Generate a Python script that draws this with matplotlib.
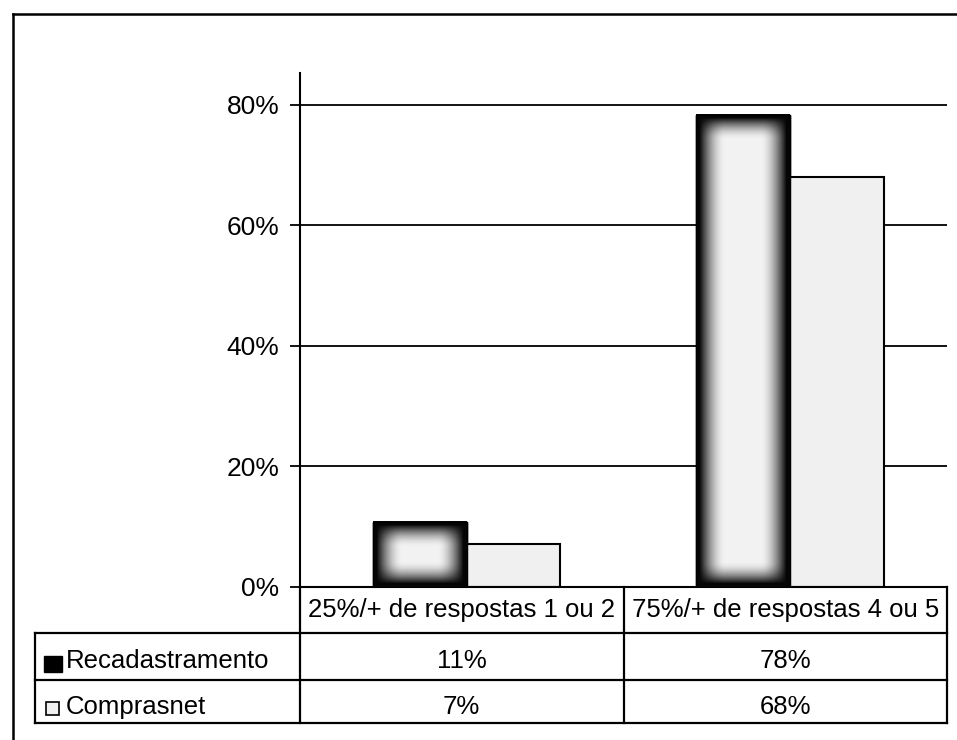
import numpy as np
import matplotlib
matplotlib.use("Agg")
import matplotlib.pyplot as plt
from matplotlib.lines import Line2D
from matplotlib.patches import Rectangle
from matplotlib.transforms import blended_transform_factory

plt.rcParams['font.family'] = ['Liberation Sans', 'DejaVu Sans']

# data
categories = ['25%/+ de respostas 1 ou 2', '75%/+ de respostas 4 ou 5']
series_names = ['Recadastramento', 'Comprasnet']
recadastramento = [10.8, 78.4]
comprasnet = [7.1, 68.1]
y_ticks = [0, 20, 40, 60, 80]

W, H = 957, 740
fig = plt.figure(figsize=(W / 100, H / 100), dpi=100)

def fx(px):
    return px / W

def fy(py):
    # pixel measured from top -> figure fraction
    return 1 - py / H

ax = fig.add_axes([fx(300), fy(587), fx(947) - fx(300), fy(73) - fy(587)])
ax.set_xlim(-0.5, 1.5)
ax.set_ylim(0, 85.3)

x = np.arange(len(categories)) + 0.015
w = 0.29
bars_r = ax.bar(x - w / 2, recadastramento, w, color='black', edgecolor='black', lw=1, zorder=2)
bars_c = ax.bar(x + w / 2, comprasnet, w, color='#f0f0f0', edgecolor='black', lw=1.5, zorder=2)

# gradient fill for the Recadastramento bars (dark edges -> light centre)
for rect in bars_r:
    x0, y0 = rect.get_x(), rect.get_y()
    x1, y1 = x0 + rect.get_width(), y0 + rect.get_height()
    (px0, py0), (px1, py1) = ax.transData.transform([(x0, y0), (x1, y1)])
    nw, nh = int(round(px1 - px0)), int(round(py1 - py0))
    jj = np.arange(nw)
    ii = np.arange(nh)
    dx = np.minimum(jj, nw - 1 - jj)
    dy = np.minimum(ii, nh - 1 - ii)
    gx = np.clip((dx - 3) / 26.0, 0, 1)
    gy = np.clip((dy - 3) / 22.0, 0, 1)
    gx = gx * gx * (3 - 2 * gx)
    gy = gy * gy * (3 - 2 * gy)
    val = np.sqrt(np.outer(gy, gx))
    grey = 0.02 + 0.93 * val
    img = np.dstack([grey, grey, grey])
    ax.imshow(img, extent=(x0, x1, y0, y1), aspect='auto', zorder=3,
              interpolation='bilinear')
    ax.add_patch(Rectangle((x0, y0), x1 - x0, y1 - y0, fill=False,
                           edgecolor='black', lw=1, zorder=4))

ax.set_xlim(-0.5, 1.5)
ax.set_ylim(0, 85.3)
ax.set_yticks(y_ticks)
ax.set_yticklabels([f'{t}%' for t in y_ticks])
ax.set_xticks([])
ax.tick_params(axis='y', direction='out', length=7, width=1.3, pad=8, labelsize=19)
ax.yaxis.grid(True, color='black', lw=1.3)
ax.set_axisbelow(True)
for s in ['top', 'right']:
    ax.spines[s].set_visible(False)
ax.spines['left'].set_linewidth(1.5)
ax.spines['bottom'].set_linewidth(1.5)

# data table under the plot
lw = 1.6
tr = blended_transform_factory(ax.transData, fig.transFigure)
ft = fig.transFigure
rows_y = [587, 633, 680, 723]
baselines = [668, 714]

for yy in rows_y[1:]:
    fig.add_artist(Line2D([fx(35), fx(947)], [fy(yy), fy(yy)], color='black', lw=lw, transform=ft))
for xx in [fx(300), fx(947)]:
    fig.add_artist(Line2D([xx, xx], [fy(587), fy(723)], color='black', lw=lw, transform=ft))
fig.add_artist(Line2D([fx(35), fx(35)], [fy(633), fy(723)], color='black', lw=lw, transform=ft))
for i in range(len(categories) - 1):
    fig.add_artist(Line2D([i + 0.5, i + 0.5], [fy(587), fy(723)], color='black', lw=lw,
                          transform=tr, clip_on=False))

fs = 18.5
for i, cat in enumerate(categories):
    fig.text(i, fy(617), cat, transform=tr, ha='center', va='baseline', fontsize=fs)
for row, (name, vals) in enumerate(zip(series_names, [recadastramento, comprasnet])):
    yb = baselines[row]
    fig.text(fx(66), fy(yb), name, ha='left', va='baseline', fontsize=fs)
    for i, v in enumerate(vals):
        fig.text(i, fy(yb), f'{v:.0f}%', transform=tr, ha='center', va='baseline', fontsize=fs)

# legend keys in the row labels
fig.add_artist(Rectangle((fx(44), fy(672)), fx(18), 16 / H, facecolor='black',
                         edgecolor='black', lw=1, transform=ft))
fig.add_artist(Rectangle((fx(46), fy(715)), fx(13), 13 / H, facecolor='#f0f0f0',
                         edgecolor='black', lw=1.2, transform=ft))

# outer frame (top and left visible)
fig.add_artist(Line2D([fx(13), 1], [fy(14), fy(14)], color='black', lw=1.8, transform=ft))
fig.add_artist(Line2D([fx(13), fx(13)], [fy(14), 0], color='black', lw=1.8, transform=ft))

fig.savefig('out.png', dpi=100)
